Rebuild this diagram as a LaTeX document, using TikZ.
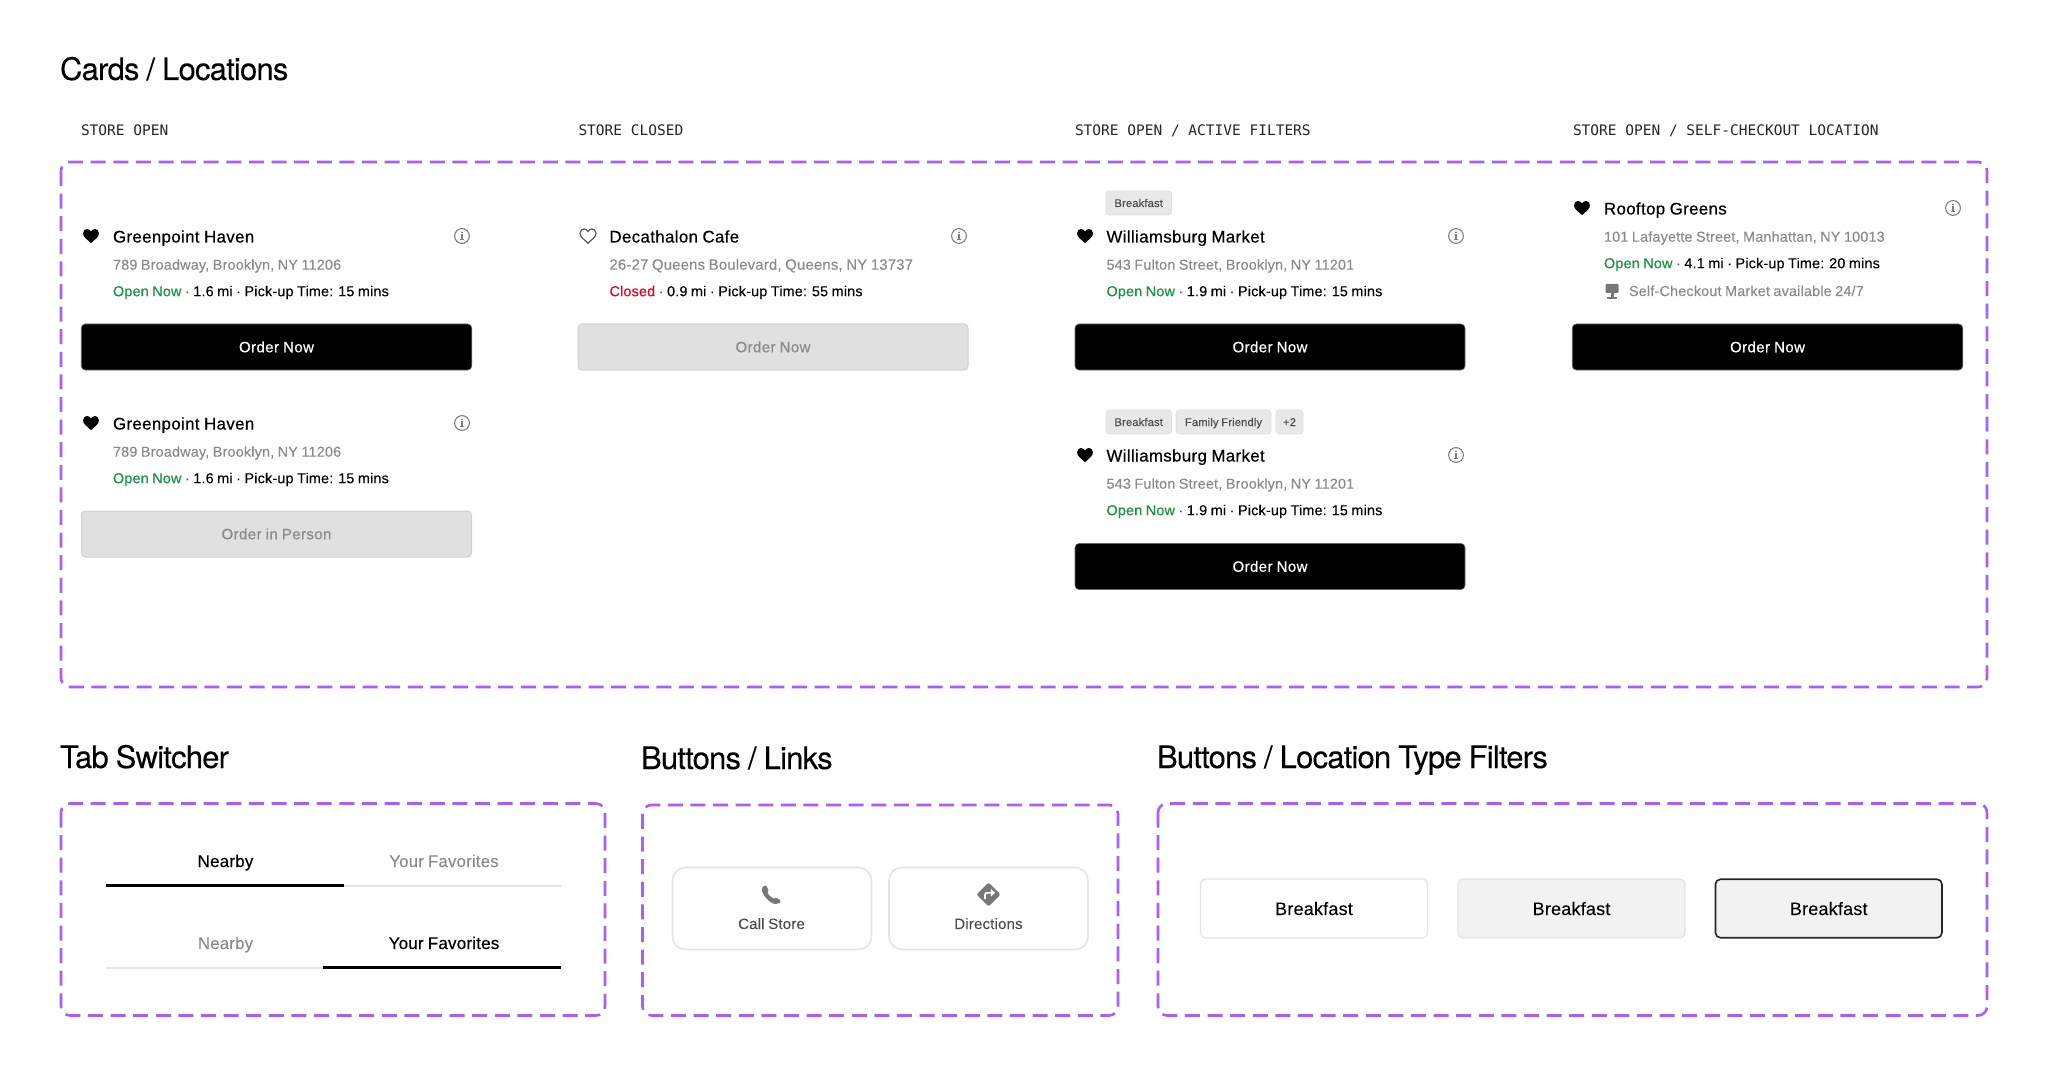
\documentclass[tikz,border=0pt]{standalone}
\usepackage{fontspec}
\setmainfont{Liberation Sans}
\newfontfamily\headfont[LetterSpace=-2.6,WordSpace=0.9,FakeBold=0.12]{TeX Gyre Heros}
\newfontfamily\monofont{DejaVu Sans Mono}
\newfontfamily\bodyfont[LetterSpace=1.2,WordSpace=0.85,FakeBold=0.06]{Liberation Sans}
\newfontfamily\medfont[LetterSpace=1.2,WordSpace=0.85,FakeBold=0.4]{Liberation Sans}
\newfontfamily\titlefont[LetterSpace=2.3,WordSpace=0.9,FakeBold=0.5]{Liberation Sans}
\newfontfamily\btnfont[LetterSpace=2.7,WordSpace=0.9,FakeBold=0.5]{Liberation Sans}
\definecolor{frame}{HTML}{A55EFF}
\definecolor{okgreen}{HTML}{1C9245}
\definecolor{shut}{HTML}{E8001C}
\definecolor{addr}{HTML}{8A8A8A}
\definecolor{disfill}{HTML}{E0E0E0}
\definecolor{disline}{HTML}{D0D0D0}
\definecolor{hair}{HTML}{E4E4E4}
\definecolor{icongrey}{HTML}{777777}
\tikzset{
 x=1pt,y=-1pt,
 every node/.style={inner sep=0pt,outer sep=0pt},
 zone/.style={draw=frame,line width=2.6pt,rounded corners=9pt,dash pattern=on 15pt off 7.6pt},
 heading/.style={anchor=base west,font=\headfont\fontsize{31}{31}\selectfont,text=black},
 caption/.style={anchor=base west,font=\monofont\fontsize{14.5}{15}\selectfont,text=black!85},
 titletext/.style={anchor=base west,font=\titlefont\fontsize{16.8}{18}\selectfont,text=black},
 addrtext/.style={anchor=base west,font=\bodyfont\fontsize{14.4}{16}\selectfont,text=addr},
 statustext/.style={anchor=base west,font=\bodyfont\fontsize{14.4}{16}\selectfont,text=black},
 btnblack/.style={fill=black,draw=black!60,line width=.6pt,rounded corners=4pt,text=white,font=\btnfont\fontsize{15}{16}\selectfont,text height=10.5pt,text depth=0pt},
 btngrey/.style={fill=disfill,draw=disline,line width=1pt,rounded corners=4pt,text=addr,font=\btnfont\fontsize{15}{16}\selectfont,text height=10.5pt,text depth=0pt},
 tagbox/.style={fill=disfill!75,draw=disfill,line width=.6pt,rounded corners=3pt,text=black!70,font=\bodyfont\fontsize{11.2}{13}\selectfont,text height=8pt,text depth=0pt},
 tabon/.style={font=\medfont\fontsize{17}{18}\selectfont,text=black,text height=12pt,text depth=0pt},
 taboff/.style={font=\bodyfont\fontsize{16.8}{18}\selectfont,text=addr,text height=12pt,text depth=0pt},
 linkbtn/.style={draw=hair,fill=white,line width=1.6pt,rounded corners=13pt},
 linktext/.style={font=\bodyfont\fontsize{15}{17}\selectfont,text=black!70,text height=11pt,text depth=0pt},
 filterbtn/.style={rounded corners=5pt,font=\bodyfont\fontsize{18}{20}\selectfont,text=black,text height=13pt,text depth=0pt},
}
% heart: #1 x, #2 y, #3 draw options
\newcommand{\hrt}[3]{\path[#3,shift={(#1,#2)}] (0,7.2) .. controls (-3,3.8) and (-8,1.5) .. (-8,-2.6) .. controls (-8,-5.6) and (-5.8,-7) .. (-3.9,-7) .. controls (-2.2,-7) and (-.9,-6) .. (0,-4.5) .. controls (.9,-6) and (2.2,-7) .. (3.9,-7) .. controls (5.8,-7) and (8,-5.6) .. (8,-2.6) .. controls (8,1.5) and (3,3.8) .. (0,7.2) -- cycle;}
% info icon: #1 x, #2 y
\newcommand{\infoicon}[2]{\begin{scope}[shift={(#1,#2)},draw=black!50,fill=black!50]
 \draw[line width=1.1pt] (0,0) circle[radius=7.4];
 \fill (0,-3.6) circle[radius=.95];
 \draw[line width=1.1pt] (-1.5,-1) -- (0,-1) -- (0,3.7) (-1.8,3.7) -- (1.8,3.7);
\end{scope}}
% card body: #1 prefix, #2 left x, #3 title baseline, #4 title, #5 address, #6 status
\newcommand{\cardtext}[6]{%
 \node[titletext] (#1t) at (#2+32,#3) {#4};
 \node[addrtext] (#1a) at (#2+32,#3+27.2) {#5};
 \node[statustext] (#1s) at (#2+32,#3+53.7) {#6};
}
\newcommand{\openline}[1]{{\medfont\color{okgreen}Open Now}\textcolor{black!65}{~·~}#1}
\begin{document}
\begin{tikzpicture}
\useasboundingbox (0,0) rectangle (2048,1075);
\fill[white] (0,0) rectangle (2048,1075);

\node[heading] (h1) at (60,80) {Cards / Locations};
\node[heading] (h2) at (60,768) {Tab Switcher};
\node[heading] (h3) at (641,769) {Buttons / Links};
\node[heading] (h4) at (1157,768) {Buttons / Location Type Filters};

\node[caption] (c1) at (81,136) {STORE OPEN};
\node[caption] (c2) at (578.5,136) {STORE CLOSED};
\node[caption] (c3) at (1075,136) {STORE OPEN / ACTIVE FILTERS};
\node[caption] (c4) at (1573,136) {STORE OPEN / SELF-CHECKOUT LOCATION};

\draw[zone] (61,162) rectangle (1987,687);
\draw[zone] (61,803.5) rectangle (605,1015.5);
\draw[zone] (642.5,805) rectangle (1118,1015.5);
\draw[zone] (1158,803.5) rectangle (1987,1015.5);

% column 1
\hrt{91}{236}{fill=black}
\cardtext{a}{81}{242.5}{Greenpoint Haven}{789 Broadway, Brooklyn, NY 11206}{\openline{1.6 mi · Pick-up Time: 15 mins}}
\infoicon{462}{236}
\node[btnblack,minimum width=390.5pt,minimum height=46pt] (ab) at (276.5,347) {Order Now};

\hrt{91}{423}{fill=black}
\cardtext{b}{81}{429.5}{Greenpoint Haven}{789 Broadway, Brooklyn, NY 11206}{\openline{1.6 mi · Pick-up Time: 15 mins}}
\infoicon{462}{423}
\node[btngrey,minimum width=390pt,minimum height=46pt] (bb) at (276.5,534) {Order in Person};

% column 2
\hrt{588}{236}{draw=black!65,line width=1.2pt}
\cardtext{c}{577.5}{242.5}{Decathalon Cafe}{\fontsize{14.9}{16}\selectfont 26-27 Queens Boulevard, Queens, NY 13737}{{\medfont\color{shut}Closed}\textcolor{black!65}{~·~}0.9 mi · Pick-up Time: 55 mins}
\infoicon{959}{236}
\node[btngrey,minimum width=390pt,minimum height=46pt] (cb) at (773,347) {Order Now};

% column 3
\node[tagbox,minimum width=65.5pt,minimum height=24pt] (d1) at (1138.7,203) {Breakfast};
\hrt{1085}{236}{fill=black}
\cardtext{d}{1074.5}{242.5}{Williamsburg Market}{543 Fulton Street, Brooklyn, NY 11201}{\openline{1.9 mi · Pick-up Time: 15 mins}}
\infoicon{1456}{236}
\node[btnblack,minimum width=390pt,minimum height=46pt] (db) at (1270,347) {Order Now};

\node[tagbox,minimum width=65.5pt,minimum height=24pt] (e1) at (1138.7,422) {Breakfast};
\node[tagbox,minimum width=95pt,minimum height=24pt] (e2) at (1223.5,422) {Family Friendly};
\node[tagbox,minimum width=27pt,minimum height=24pt] (e3) at (1289.5,422) {+2};
\hrt{1085}{455}{fill=black}
\cardtext{e}{1074.5}{461.5}{Williamsburg Market}{543 Fulton Street, Brooklyn, NY 11201}{\openline{1.9 mi · Pick-up Time: 15 mins}}
\infoicon{1456}{455}
\node[btnblack,minimum width=390pt,minimum height=46pt] (eb) at (1270,566.5) {Order Now};

% column 4
\hrt{1582}{208}{fill=black}
\cardtext{f}{1572}{214.5}{Rooftop Greens}{101 Lafayette Street, Manhattan, NY 10013}{\openline{4.1 mi · Pick-up Time: 20 mins}}
\infoicon{1953}{208}
\begin{scope}[shift={(1612,291)}]
 \fill[icongrey,rounded corners=1pt] (-6.5,-7) rectangle (6.5,2);
 \fill[icongrey] (-1.5,2) rectangle (1.5,7);
 \fill[icongrey] (-5,6.2) rectangle (5,7.8);
\end{scope}
\node[addrtext] (fx) at (1629,296) {Self-Checkout Market available 24/7};
\node[btnblack,minimum width=390.5pt,minimum height=46pt] (fb) at (1767.5,347) {Order Now};

% tabs
\node[tabon] (t1) at (225.5,861) {Nearby};
\node[taboff] (t2) at (444,861) {Your Favorites};
\draw[hair,line width=2.4pt] (343,886) -- (561,886);
\draw[black,line width=3pt] (105.5,885) -- (343.5,885);
\node[taboff] (t3) at (225.5,943) {Nearby};
\node[tabon] (t4) at (444,943) {Your Favorites};
\draw[hair,line width=2.4pt] (105.5,968) -- (323,968);
\draw[black,line width=3pt] (323,967) -- (561,967);

% link buttons
\node[linkbtn,minimum width=199pt,minimum height=82pt] (l1) at (772,908.5) {};
\node[linkbtn,minimum width=199pt,minimum height=82pt] (l2) at (988.5,908.5) {};
\node[linktext] (lt1) at (771.5,923.5) {Call Store};
\node[linktext] (lt2) at (988.5,923.5) {Directions};
\begin{scope}[shift={(771.5,895)}]
 \fill[icongrey] (-8.5,-8.5) .. controls (-7,-10) and (-5.5,-9.5) .. (-4.8,-8.5) -- (-3,-5) .. controls (-2.7,-4) and (-3.2,-3.3) .. (-4,-2.5) .. controls (-3.3,-.3) and (-.5,2.5) .. (2.2,3.6) .. controls (3,2.8) and (3.8,2.4) .. (4.8,2.8) -- (8,4.6) .. controls (9.3,5.6) and (9.3,7) .. (8,8) .. controls (5.5,9.8) and (2.5,9.3) .. (-1,7) .. controls (-5,4.3) and (-9.8,-1.5) .. (-9.6,-5.5) .. controls (-9.5,-6.8) and (-9.2,-7.8) .. (-8.5,-8.5) -- cycle;
\end{scope}
\begin{scope}[shift={(988.5,894.5)}]
 \fill[icongrey,rounded corners=2pt] (0,-12) -- (12,0) -- (0,12) -- (-12,0) -- cycle;
 \draw[white,line width=1.8pt] (-3.5,4.5) -- (-3.5,.5) .. controls (-3.5,-1) and (-2.5,-1.8) .. (-1,-1.8) -- (3,-1.8);
 \fill[white] (2.4,-5.6) -- (6.6,-1.8) -- (2.4,2) -- cycle;
\end{scope}

% filter buttons
\node[filterbtn,draw=hair,fill=white,line width=1.2pt,minimum width=227pt,minimum height=59pt] (p1) at (1314,908.5) {Breakfast};
\node[filterbtn,draw=hair,fill=black!5,line width=1.2pt,minimum width=227pt,minimum height=59pt] (p2) at (1571.5,908.5) {Breakfast};
\node[filterbtn,draw=black!85,fill=black!5,line width=1.6pt,minimum width=226.5pt,minimum height=58.5pt] (p3) at (1828.7,908.5) {Breakfast};
\end{tikzpicture}
\end{document}
